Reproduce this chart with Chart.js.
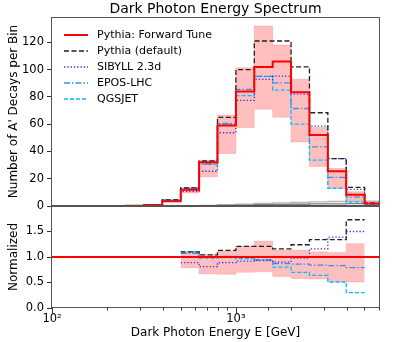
<!DOCTYPE html>
<html>
<head>
<meta charset="utf-8">
<script src="https://cdn.jsdelivr.net/npm/chart.js@4.4.0/dist/chart.umd.min.js"></script>
<style>
  body { margin: 0; background: #fff; }
  #wrap { position: relative; width: 399px; height: 342px; }
  canvas { position: absolute; left: 0; }
  #topChart { top: 0; }
  #ratioChart { top: 200px; }
</style>
</head>
<body>
<div id="wrap">
  <canvas id="topChart" width="399" height="214"></canvas>
  <canvas id="ratioChart" width="399" height="142"></canvas>
</div>
<script>
// bin edges (GeV), 10 bins per decade
const binEdges = [100, 126, 158, 200, 251, 316, 398, 501, 631, 794, 1000, 1259, 1585, 1995, 2512, 3162, 3981, 5012, 6310];

// A' decays per bin
const forwardTune   = [0, 0, 0, 0, 0.1, 0.8, 3.5, 12, 32, 59, 84, 102, 106, 83.5, 52, 25.5, 8.3, 1.8];
const pythiaDefault = [0, 0, 0, 0, 0.1, 0.9, 4.5, 13.3, 33, 65, 100, 121, 121, 102, 68.4, 34.7, 13.6, 2.3];
const sibyll        = [0, 0, 0, 0, 0.1, 0.7, 3.8, 10.7, 25.5, 53.7, 77.4, 92.8, 95.2, 82, 58.6, 34.7, 12.2, 1.8];
const epos          = [0, 0, 0, 0, 0.1, 0.8, 4.5, 13, 31, 60.5, 85.5, 95, 90.3, 71.5, 43.4, 21, 6.5, 1.3];
const qgsjet        = [0, 0, 0, 0, 0.1, 0.8, 4.3, 13, 30.5, 60, 81, 95, 85, 60, 33.6, 13, 2.8, 0.6];
const grayDark      = [0, 0, 0, 0, 0, 0, 0, 0.1, 0.3, 0.5, 0.7, 0.9, 1.1, 1.3, 1.5, 1.6, 1.7, 1.7];
const grayLight     = [0, 0, 0, 0, 0, 0, 0, 0.2, 0.5, 0.9, 1.4, 1.9, 2.3, 2.7, 3.0, 3.3, 3.5, 3.5];

// uncertainty band of the forward tune (bins 501 .. 5012 GeV)
const bandEdges = [501, 631, 794, 1000, 1259, 1585, 1995, 2512, 3162, 3981, 5012];
const bandHigh  = [13.2, 33.6, 66.5, 101.4, 132, 118, 93, 57.6, 27.5, 10.5];
const bandLow   = [9.5, 21.4, 38.5, 57.6, 71, 65, 47, 29, 13, 4.2];

// bottom panel, ratio to the forward tune
const ratioBandHigh = [1.10, 1.05, 1.12, 1.21, 1.31, 1.13, 1.13, 1.10, 1.09, 1.26];
const ratioBandLow  = [0.79, 0.67, 0.66, 0.70, 0.71, 0.62, 0.58, 0.57, 0.51, 0.51];
const ratioDefault  = [1.10, 1.04, 1.13, 1.21, 1.21, 1.16, 1.24, 1.34, 1.34, 1.73];
const ratioSibyll   = [0.89, 0.81, 0.89, 0.92, 0.93, 0.90, 0.98, 1.16, 1.39, 1.50];
const ratioEpos     = [1.07, 1.00, 1.01, 1.00, 0.95, 0.87, 0.86, 0.84, 0.83, 0.79];
const ratioQgs      = [1.10, 0.98, 0.99, 0.97, 0.94, 0.80, 0.70, 0.64, 0.51, 0.30];

const xMin = 100, xMax = 6000;
const yTicksTop = { min: 0, max: 138.6, step: 20 };
const yTicksRatio = { min: 0, max: 2, step: 0.5 };

Chart.defaults.font.family = "DejaVu Sans";
Chart.defaults.color = "#000";

const styles = {
  tune:    { label: "Pythia: Forward Tune", color: "#ff0000", width: 2, dash: [] },
  def:     { label: "Pythia (default)", color: "#222222", width: 1.3, dash: [5, 2.5] },
  sibyll:  { label: "SIBYLL 2.3d", color: "#3030f0", width: 1.3, dash: [1.3, 2] },
  epos:    { label: "EPOS-LHC", color: "#3a8ee6", width: 1.3, dash: [6, 2, 1.5, 2] },
  qgs:     { label: "QGSJET", color: "#00bfff", width: 1.3, dash: [4, 2] },
};

function steps(edges, values) {
  const pts = values.map((v, i) => ({ x: edges[i], y: v }));
  pts.push({ x: edges[values.length], y: values[values.length - 1] });
  return pts;
}

function histLine(st, data) {
  return {
    label: st.label, data: data, stepped: true,
    borderColor: st.color, borderWidth: st.width, borderDash: st.dash,
    pointRadius: 0, fill: false,
  };
}

function bandSets(edges, hi, lo) {
  return [
    { data: steps(edges, hi), stepped: true, borderColor: "rgba(255,0,0,0.15)", borderWidth: 1, pointRadius: 0, fill: false },
    { data: steps(edges, lo), stepped: true, borderColor: "rgba(255,0,0,0.15)", borderWidth: 1, pointRadius: 0,
      fill: "-1", backgroundColor: "rgba(255,0,0,0.25)" },
  ];
}

// frame around the plot area (all four spines)
const framePlugin = {
  id: "frame",
  afterDraw(chart) {
    const a = chart.chartArea, ctx = chart.ctx;
    ctx.save();
    ctx.strokeStyle = "#555";
    ctx.lineWidth = 1;
    ctx.strokeRect(Math.round(a.left) - 0.5, Math.round(a.top) + 0.5,
      Math.round(a.right - a.left) + 1, Math.round(a.bottom - a.top) - 1);
    ctx.restore();
  }
};

const titlePlugin = {
  id: "topTitle",
  afterDraw(chart) {
    const a = chart.chartArea, ctx = chart.ctx;
    ctx.save();
    ctx.font = "14px 'DejaVu Sans'";
    ctx.fillStyle = "#000";
    ctx.textAlign = "center";
    ctx.textBaseline = "middle";
    ctx.fillText("Dark Photon Energy Spectrum", (a.left + a.right) / 2, 9);
    ctx.restore();
  }
};

const legendPlugin = {
  id: "lineLegend",
  afterDraw(chart) {
    const a = chart.chartArea, ctx = chart.ctx;
    const order = [styles.tune, styles.def, styles.sibyll, styles.epos, styles.qgs];
    ctx.save();
    ctx.font = "11px 'DejaVu Sans'";
    ctx.textBaseline = "middle";
    order.forEach((st, i) => {
      const y = a.top + 18 + i * 16;
      ctx.strokeStyle = st.color;
      ctx.lineWidth = st.width;
      ctx.setLineDash(st.dash);
      ctx.beginPath();
      ctx.moveTo(a.left + 12, y);
      ctx.lineTo(a.left + 36, y);
      ctx.stroke();
      ctx.setLineDash([]);
      ctx.fillStyle = "#000";
      ctx.fillText(st.label, a.left + 45, y);
    });
    ctx.restore();
  }
};

// log-axis tick marks: long for decades, short for the rest
const xTickPlugin = {
  id: "xTicks",
  afterDraw(chart) {
    const sc = chart.scales.x, a = chart.chartArea, ctx = chart.ctx;
    ctx.save();
    ctx.strokeStyle = "#333";
    ctx.lineWidth = 1;
    sc.ticks.forEach(t => {
      const lg = Math.log10(t.value);
      const major = Math.abs(lg - Math.round(lg)) < 1e-6;
      const px = Math.round(sc.getPixelForValue(t.value)) + 0.5;
      ctx.beginPath();
      ctx.moveTo(px, a.bottom);
      ctx.lineTo(px, a.bottom + (major ? 5 : 2.5));
      ctx.stroke();
    });
    ctx.restore();
  }
};

function yAxis(t, title) {
  return {
    min: t.min, max: t.max,
    afterFit: s => { s.width = 52; s.paddingTop = 0; s.paddingBottom = 0; },
    border: { display: false },
    grid: { drawOnChartArea: false, tickLength: 5, color: "#333" },
    ticks: {
      stepSize: t.step, includeBounds: false, padding: 3,
      font: { size: 11.5 },
      callback: v => (t.step < 1 ? (v === t.max ? "" : v.toFixed(1)) : v),
    },
    title: { display: true, text: title, font: { size: 12 }, padding: { top: 7, bottom: 0 } },
  };
}

new Chart(document.getElementById("topChart"), {
  type: "line",
  data: {
    datasets: [
      histLine(styles.tune, steps(binEdges, forwardTune)),
      histLine(styles.def, steps(binEdges, pythiaDefault)),
      histLine(styles.sibyll, steps(binEdges, sibyll)),
      histLine(styles.epos, steps(binEdges, epos)),
      histLine(styles.qgs, steps(binEdges, qgsjet)),
      { data: steps(binEdges, grayDark), stepped: true, borderColor: "#808080", borderWidth: 1.3, pointRadius: 0, fill: false },
      { data: steps(binEdges, grayLight), stepped: true, borderColor: "#b5b5b5", borderWidth: 1.3, pointRadius: 0, fill: false },
      ...bandSets(bandEdges, bandHigh, bandLow),
    ]
  },
  options: {
    responsive: false,
    animation: false,
    layout: { padding: { top: 17, right: 20, bottom: 8, left: 0 } },
    plugins: { legend: { display: false }, tooltip: { enabled: false } },
    scales: {
      x: { type: "logarithmic", min: xMin, max: xMax, display: false },
      y: yAxis(yTicksTop, "Number of A' Decays per Bin"),
    }
  },
  plugins: [framePlugin, titlePlugin, legendPlugin]
});

new Chart(document.getElementById("ratioChart"), {
  type: "line",
  data: {
    datasets: [
      { data: [{ x: xMin, y: 1 }, { x: xMax, y: 1 }], borderColor: "#ff0000", borderWidth: 2, pointRadius: 0, fill: false },
      histLine(styles.def, steps(bandEdges, ratioDefault)),
      histLine(styles.sibyll, steps(bandEdges, ratioSibyll)),
      histLine(styles.epos, steps(bandEdges, ratioEpos)),
      histLine(styles.qgs, steps(bandEdges, ratioQgs)),
      ...bandSets(bandEdges, ratioBandHigh, ratioBandLow),
    ]
  },
  options: {
    responsive: false,
    animation: false,
    layout: { padding: { top: 6, right: 20, bottom: 0, left: 0 } },
    plugins: { legend: { display: false }, tooltip: { enabled: false } },
    scales: {
      x: {
        type: "logarithmic", min: xMin, max: xMax,
        afterFit: s => { s.height = 34; s.paddingLeft = 0; s.paddingRight = 0; },
        border: { display: false },
        grid: { display: false, drawTicks: true, tickLength: 4 },
        ticks: {
          autoSkip: false, maxRotation: 0, padding: 0, font: { size: 11.5 },
          callback: v => {
            if (Math.abs(v - 100) < 1e-6) return "10\u00B2";
            if (Math.abs(v - 1000) < 1e-6) return "10\u00B3";
            return "";
          }
        },
        title: { display: true, text: "Dark Photon Energy E [GeV]", font: { size: 12 }, padding: { top: 0, bottom: 2 } },
      },
      y: yAxis(yTicksRatio, "Normalized"),
    }
  },
  plugins: [framePlugin, xTickPlugin]
});
</script>
</body>
</html>
